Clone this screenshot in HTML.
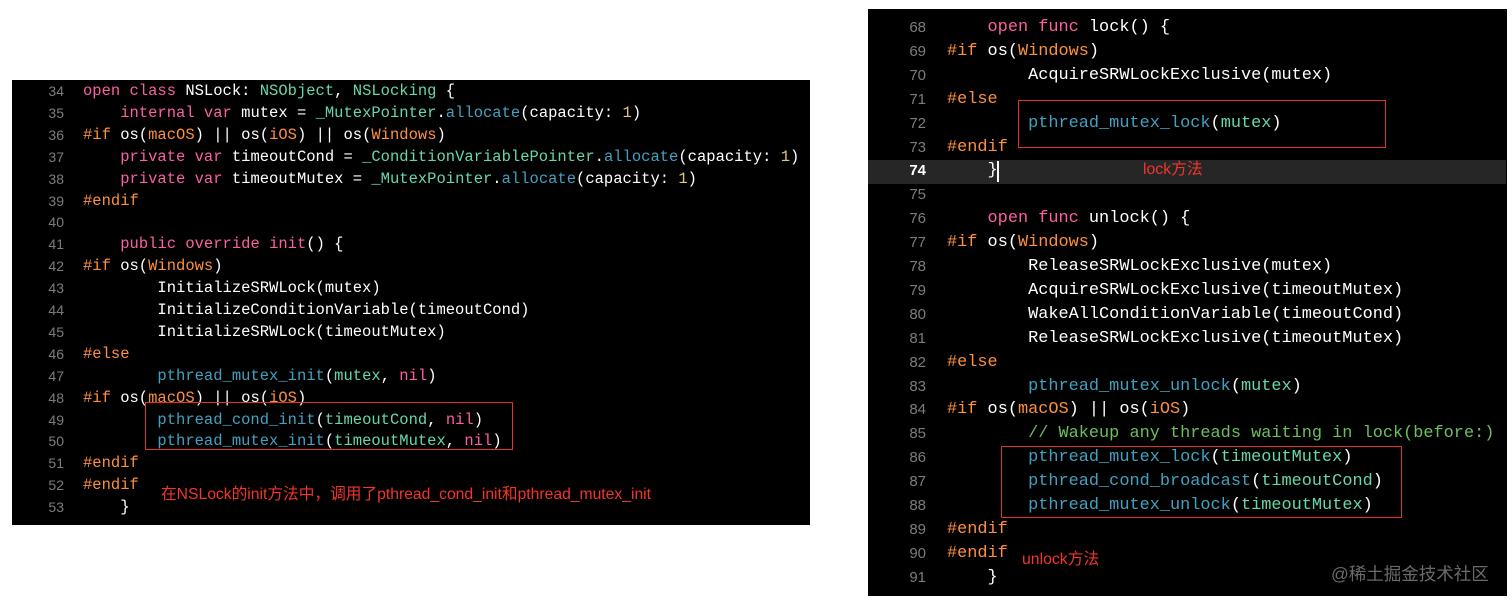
<!DOCTYPE html>
<html><head><meta charset="utf-8"><style>
body{margin:0;width:1512px;height:603px;background:#fff;position:relative;overflow:hidden}
.p{position:absolute;background:#000;overflow:hidden}
.l{position:absolute;white-space:pre;font-family:"Liberation Mono",monospace;color:#fff}
.n{position:absolute;text-align:right;font-family:"Liberation Sans",sans-serif;color:#7b7c80}
.k{color:#fc5fa3}.pp{color:#fd8f3f}.f{color:#41a1c0}.g{color:#67d7a9}.y{color:#d9c97c}.c{color:#6cbf5f}
.box{position:absolute;border:1.5px solid #e0332a}
.t{position:absolute;color:#f2352a;font-family:"Liberation Sans","Noto Sans CJK SC",sans-serif;white-space:nowrap}
</style></head><body>
<div class="p" style="left:12px;top:80px;width:798px;height:445px"></div>
<div class="p" style="left:868px;top:9px;width:639px;height:587px"></div>
<div style="position:absolute;left:868px;top:160px;width:638px;height:24px;background:#262626"></div>
<div id="L"></div><div id="R"></div>
<div class="box" style="left:145px;top:402px;width:366px;height:46px"></div>
<div class="box" style="left:1018px;top:100px;width:366px;height:46px"></div>
<div class="box" style="left:1001px;top:446px;width:399px;height:70px"></div>
<div class="t" style="left:161px;top:481px;font-size:15.7px">在NSLock的init方法中，调用了pthread_cond_init和pthread_mutex_init</div>
<div class="t" style="left:1143px;top:156px;font-size:15.8px">lock方法</div>
<div class="t" style="left:1022px;top:546px;font-size:15.8px">unlock方法</div>
<div class="t" style="left:1331px;top:561px;font-size:17.5px;color:#6a6a6a">@稀土掘金技术社区</div>
<div style="position:absolute;left:997px;top:161px;width:2px;height:21px;background:#fff"></div>
<script>
var L=[
'<span class="k">open class</span> NSLock: <span class="g">NSObject</span>, <span class="g">NSLocking</span> {',
'    <span class="k">internal var</span> mutex = <span class="g">_MutexPointer</span>.<span class="f">allocate</span>(capacity: <span class="y">1</span>)',
'<span class="pp">#if</span> os(<span class="pp">macOS</span>) || os(<span class="pp">iOS</span>) || os(<span class="pp">Windows</span>)',
'    <span class="k">private var</span> timeoutCond = <span class="g">_ConditionVariablePointer</span>.<span class="f">allocate</span>(capacity: <span class="y">1</span>)',
'    <span class="k">private var</span> timeoutMutex = <span class="g">_MutexPointer</span>.<span class="f">allocate</span>(capacity: <span class="y">1</span>)',
'<span class="pp">#endif</span>','',
'    <span class="k">public override</span> <span class="k">init</span>() {',
'<span class="pp">#if</span> os(<span class="pp">Windows</span>)',
'        InitializeSRWLock(mutex)',
'        InitializeConditionVariable(timeoutCond)',
'        InitializeSRWLock(timeoutMutex)',
'<span class="pp">#else</span>',
'        <span class="f">pthread_mutex_init</span>(<span class="g">mutex</span>, <span class="k">nil</span>)',
'<span class="pp">#if</span> os(<span class="pp">macOS</span>) || os(<span class="pp">iOS</span>)',
'        <span class="f">pthread_cond_init</span>(<span class="g">timeoutCond</span>, <span class="k">nil</span>)',
'        <span class="f">pthread_mutex_init</span>(<span class="g">timeoutMutex</span>, <span class="k">nil</span>)',
'<span class="pp">#endif</span>','<span class="pp">#endif</span>','    }'];
var R=[
'    <span class="k">open func</span> lock() {',
'<span class="pp">#if</span> os(<span class="pp">Windows</span>)',
'        AcquireSRWLockExclusive(mutex)',
'<span class="pp">#else</span>',
'        <span class="f">pthread_mutex_lock</span>(<span class="g">mutex</span>)',
'<span class="pp">#endif</span>','    }','',
'    <span class="k">open func</span> unlock() {',
'<span class="pp">#if</span> os(<span class="pp">Windows</span>)',
'        ReleaseSRWLockExclusive(mutex)',
'        AcquireSRWLockExclusive(timeoutMutex)',
'        WakeAllConditionVariable(timeoutCond)',
'        ReleaseSRWLockExclusive(timeoutMutex)',
'<span class="pp">#else</span>',
'        <span class="f">pthread_mutex_unlock</span>(<span class="g">mutex</span>)',
'<span class="pp">#if</span> os(<span class="pp">macOS</span>) || os(<span class="pp">iOS</span>)',
'        <span class="c">// Wakeup any threads waiting in lock(before:)</span>',
'        <span class="f">pthread_mutex_lock</span>(<span class="g">timeoutMutex</span>)',
'        <span class="f">pthread_cond_broadcast</span>(<span class="g">timeoutCond</span>)',
'        <span class="f">pthread_mutex_unlock</span>(<span class="g">timeoutMutex</span>)',
'<span class="pp">#endif</span>','<span class="pp">#endif</span>','    }'];
var h='';
L.forEach(function(s,i){var t=80+i*21.9;
h+='<div class="n" style="left:30px;width:34px;top:'+t+'px;line-height:22px;font-size:14px">'+(34+i)+'</div>';
h+='<div class="l" style="left:83px;top:'+t+'px;line-height:22px;font-size:15.5px">'+s+'</div>';});
R.forEach(function(s,i){var t=16+i*23.9;
h+='<div class="n" style="left:890px;width:36px;top:'+t+'px;line-height:24px;font-size:15px;'+(i==6?'color:#fff;font-weight:bold':'')+'">'+(68+i)+'</div>';
h+='<div class="l" style="left:947px;top:'+t+'px;line-height:24px;font-size:16.9px">'+s+'</div>';});
document.getElementById('L').innerHTML=h;
</script>
</body></html>
